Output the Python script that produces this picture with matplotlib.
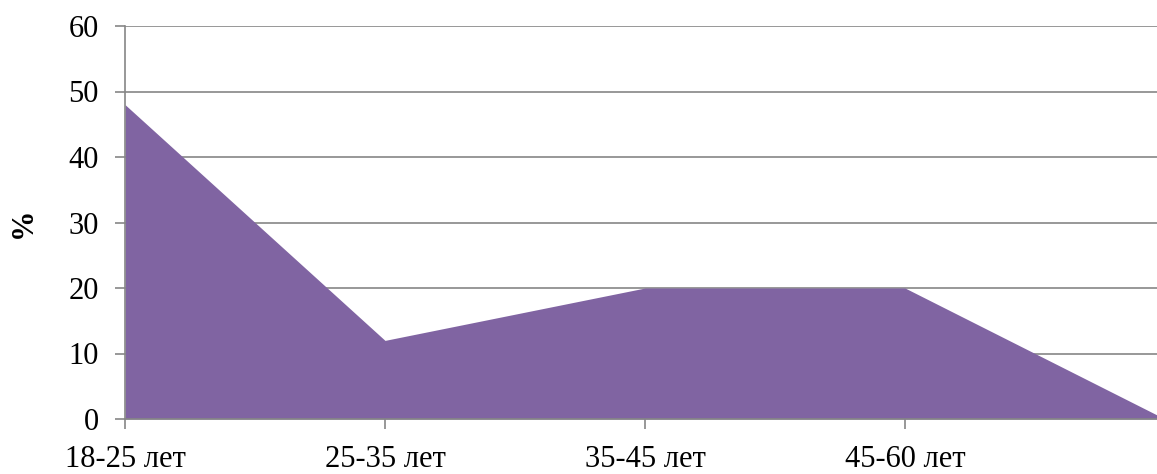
import matplotlib
matplotlib.use("Agg")
import matplotlib.pyplot as plt

categories = ["18-25 лет", "25-35 лет", "35-45 лет", "45-60 лет", ""]
values = [48, 12, 20, 20, 0]
y_ticks = [0, 10, 20, 30, 40, 50, 60]

plt.rcParams["font.family"] = ["Liberation Serif", "DejaVu Serif"]

fig = plt.figure(figsize=(11.57, 4.74), dpi=100)
ax = fig.add_axes([125 / 1157, 1 - 419 / 474, (1165 - 125) / 1157, (419 - 26) / 474])

x = list(range(len(categories)))
ax.fill_between(x, values, 0, color="#8064A2", linewidth=0, zorder=2)

ax.set_xlim(0, len(categories) - 1)
ax.set_ylim(0, 60)
ax.set_yticks(y_ticks)
ax.set_xticks(x)
ax.set_xticklabels(categories)

grid_color = "#868686"
ax.yaxis.grid(True, color=grid_color, linewidth=1.2, zorder=1)
ax.set_axisbelow(True)
for side in ("top", "right"):
    ax.spines[side].set_visible(False)
for side in ("left", "bottom"):
    ax.spines[side].set_color(grid_color)
    ax.spines[side].set_linewidth(1.2)
    ax.spines[side].set_zorder(3)

ax.tick_params(axis="both", colors=grid_color, length=7, width=1.2, labelsize=22,
               labelcolor="black")
ax.tick_params(axis="x", pad=12)
ax.tick_params(axis="y", pad=12)

ax.set_ylabel("%", fontsize=22, fontweight="bold", labelpad=22)

fig.savefig("out.png", dpi=100)
